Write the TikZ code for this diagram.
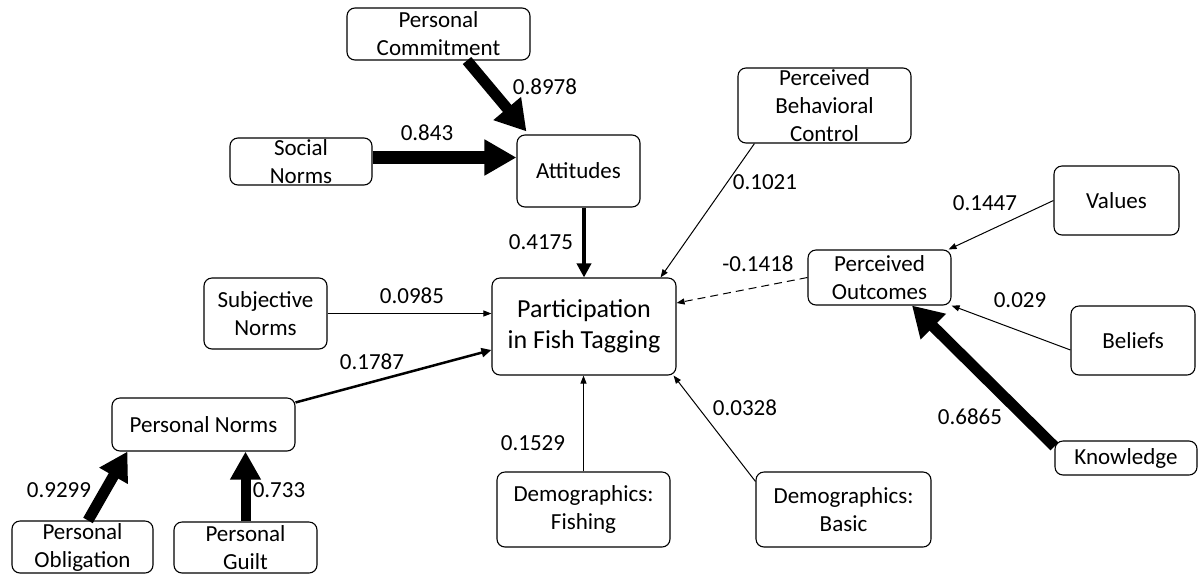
\documentclass[tikz,border=0pt]{standalone}
\usepackage{fontspec}
\setmainfont{Carlito}
\usetikzlibrary{arrows.meta,calc}
\begin{document}
\begin{tikzpicture}[x=1pt,y=-1pt,
 box/.style={draw, rounded corners=8pt, line width=1.1pt, align=center, inner sep=0pt, font=\fontsize{23}{28}\selectfont},
 lbl/.style={font=\fontsize{23}{28}\selectfont, inner sep=0pt},
 thinarr/.style={line width=1pt, -{Triangle[length=8pt,width=6pt]}},
 thickarr/.style={line width=11pt, -{Triangle[length=30pt,width=34pt]}},
]
\useasboundingbox (0,0) rectangle (1201,574);
% nodes
\node[box, minimum width=183pt, minimum height=52pt] (pc) at (438.5,34) {Personal\\Commitment};
\node[box, minimum width=142pt, minimum height=47pt] (sn) at (301,161.5) {Social\\Norms};
\node[box, minimum width=123pt, minimum height=72pt] (att) at (578.5,171) {Attitudes};
\node[box, minimum width=173pt, minimum height=75pt] (pbc) at (824.5,105.5) {Perceived\\Behavioral\\Control};
\node[box, minimum width=125pt, minimum height=69pt] (val) at (1116.5,200.5) {Values};
\node[box, minimum width=143pt, minimum height=55pt] (po) at (879.5,277.5) {Perceived\\Outcomes};
\node[box, minimum width=184pt, minimum height=97pt, font=\fontsize{26}{31}\selectfont] (par) at (584,326.5) {Participation\\in Fish Tagging};
\node[box, minimum width=124pt, minimum height=69pt] (bel) at (1133,340.5) {Beliefs};
\node[box, minimum width=142pt, minimum height=34pt] (kno) at (1126,458) {Knowledge};
\node[box, minimum width=173pt, minimum height=75pt] (df) at (583.5,509.5) {Demographics:\\Fishing};
\node[box, minimum width=175pt, minimum height=75pt] (db) at (843.5,509.5) {Demographics:\\Basic};
\node[box, minimum width=123pt, minimum height=71pt] (subn) at (265.5,313.5) {Subjective\\Norms};
\node[box, minimum width=183pt, minimum height=53pt] (pn) at (203.5,424.5) {Personal Norms};
\node[box, minimum width=141pt, minimum height=52pt] (pobl) at (82.5,547) {Personal\\Obligation};
\node[box, minimum width=143pt, minimum height=51pt] (pg) at (245.5,547.5) {Personal\\Guilt};
% connectors
\draw[thickarr] ([xshift=28.5pt]pc.south) -- ([xshift=10pt,yshift=3pt]att.north west);
\coordinate (snA) at ($(sn.east)+(0,-4)$);
\draw[line width=13pt, -{Triangle[length=32pt,width=34pt]}] (snA) -- (snA -| att.west);
\draw[line width=4pt, -{Triangle[length=14pt,width=14pt]}] (par.north |- att.south) -- (par.north);
\draw[thinarr] ([xshift=17pt]pbc.south west) -- ([xshift=-16pt]par.north east);
\draw[thinarr] (val.west) -- ([xshift=-3pt]po.north east);
\draw[thinarr, dash pattern=on 8pt off 5pt] (po.west) -- ([yshift=23.5pt]par.east);
\draw[thinarr] ([yshift=-9.5pt]bel.west) -- (po.south east);
\draw[thickarr] ([yshift=-6pt]kno.north west) -- ([xshift=32.5pt]po.south);
\draw[thinarr] (subn.east) -- (subn.east -| par.west);
\draw[line width=2.5pt, -{Triangle[length=10pt,width=9pt]}] ([yshift=-5pt]pn.north east) -- ([yshift=-23.5pt]par.west);
\draw[thinarr] (df.north) -- (df.north |- par.south);
\draw[thinarr] ([yshift=-10pt]db.north west) -- ([xshift=-3pt]par.south east);
\draw[line width=11pt, -{Triangle[length=28pt,width=31pt]}] ([xshift=5.5pt]pobl.north) -- ([xshift=16pt]pn.south west);
\draw[line width=10pt, -{Triangle[length=28pt,width=29pt]}] (pg.north) -- (pg.north |- pn.south);
% labels
\node[lbl] (l1) at (545,87) {0.8978};
\node[lbl] (l2) at (427,133) {0.843};
\node[lbl] (l3) at (541,242) {0.4175};
\node[lbl] (l4) at (765,182) {0.1021};
\node[lbl] (l5) at (985,203) {0.1447};
\node[lbl] (l6) at (758,264) {-0.1418};
\node[lbl] (l7) at (1020,300) {0.029};
\node[lbl] (l8) at (970,417) {0.6865};
\node[lbl] (l9) at (745,408) {0.0328};
\node[lbl] (l10) at (533,443) {0.1529};
\node[lbl] (l11) at (412,296) {0.0985};
\node[lbl] (l12) at (372,362) {0.1787};
\node[lbl] (l13) at (59,490) {0.9299};
\node[lbl] (l14) at (279,490) {0.733};
\end{tikzpicture}
\end{document}
